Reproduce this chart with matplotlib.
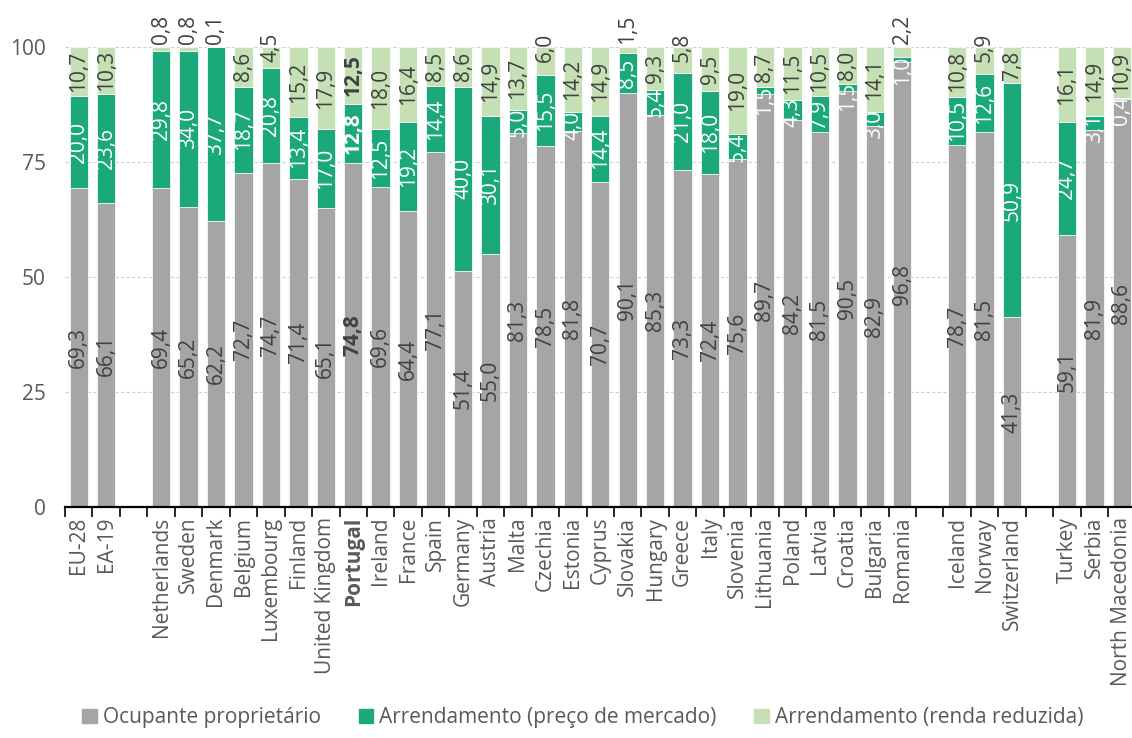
import matplotlib
matplotlib.use("Agg")
import matplotlib.pyplot as plt
from matplotlib.patches import Patch
import numpy as np

plt.rcParams['font.family'] = ['Open Sans', 'DejaVu Sans']

# groups of countries, a blank slot goes between groups
groups = [
    ["EU-28", "EA-19"],
    ["Netherlands", "Sweden", "Denmark", "Belgium", "Luxembourg", "Finland",
     "United Kingdom", "Portugal", "Ireland", "France", "Spain", "Germany",
     "Austria", "Malta", "Czechia", "Estonia", "Cyprus", "Slovakia", "Hungary",
     "Greece", "Italy", "Slovenia", "Lithuania", "Poland", "Latvia", "Croatia",
     "Bulgaria", "Romania"],
    ["Iceland", "Norway", "Switzerland"],
    ["Turkey", "Serbia", "North Macedonia"],
]

owner = [69.3, 66.1,
         69.4, 65.2, 62.2, 72.7, 74.7, 71.4, 65.1, 74.8, 69.6, 64.4, 77.1, 51.4,
         55.0, 81.3, 78.5, 81.8, 70.7, 90.1, 85.3, 73.3, 72.4, 75.6, 89.7, 84.2,
         81.5, 90.5, 82.9, 96.8,
         78.7, 81.5, 41.3,
         59.1, 81.9, 88.6]
market = [20.0, 23.6,
          29.8, 34.0, 37.7, 18.7, 20.8, 13.4, 17.0, 12.8, 12.5, 19.2, 14.4, 40.0,
          30.1, 5.0, 15.5, 4.0, 14.4, 8.5, 5.4, 21.0, 18.0, 5.4, 1.5, 4.3,
          7.9, 1.5, 3.0, 1.0,
          10.5, 12.6, 50.9,
          24.7, 3.1, 0.4]
reduced = [10.7, 10.3,
           0.8, 0.8, 0.1, 8.6, 4.5, 15.2, 17.9, 12.5, 18.0, 16.4, 8.5, 8.6,
           14.9, 13.7, 6.0, 14.2, 14.9, 1.5, 9.3, 5.8, 9.5, 19.0, 8.7, 11.5,
           10.5, 8.0, 14.1, 2.2,
           10.8, 5.9, 7.8,
           16.1, 14.9, 10.9]

series_names = ["Ocupante proprietário", "Arrendamento (preço de mercado)",
                "Arrendamento (renda reduzida)"]
highlight = "Portugal"

c_owner = "#A5A5A5"
c_market = "#1BA87A"
c_reduced = "#C5E0B4"
txt_dark = "#404040"

# slot positions with gaps
labels, pos = [], []
slot = 0
for gi, g in enumerate(groups):
    for name in g:
        labels.append(name)
        pos.append(slot)
        slot += 1
    if gi < len(groups) - 1:
        slot += 1
nslots = slot
pos = np.array(pos, dtype=float)
owner = np.array(owner)
market = np.array(market)
reduced = np.array(reduced)

fig = plt.figure(figsize=(11.32, 7.38), dpi=100)
ax = fig.add_axes([65 / 1132, 231 / 738, (nslots * 27.45) / 1132, 460 / 738])

w = 0.67
ax.bar(pos, owner, w, color=c_owner, edgecolor="white", linewidth=0.5, zorder=2)
ax.bar(pos, market, w, bottom=owner, color=c_market, edgecolor="white", linewidth=0.5, zorder=2)
ax.bar(pos, reduced, w, bottom=owner + market, color=c_reduced, edgecolor="white", linewidth=0.5, zorder=2)

fmt = lambda v: f"{v:.1f}".replace(".", ",")
fs = 15
for i, x in enumerate(pos):
    bold = "bold" if labels[i] == highlight else "normal"
    o, m, r = owner[i], market[i], reduced[i]
    ax.text(x, o / 2, fmt(o), rotation=90, ha="center", va="center",
            color=txt_dark, fontsize=fs, fontweight=bold, zorder=3)
    if m >= 6.5:
        ax.text(x, o + m / 2, fmt(m), rotation=90, ha="center", va="center",
                color="white", fontsize=fs, fontweight=bold, zorder=3)
    else:
        ax.text(x, o + m + 0.4, fmt(m), rotation=90, ha="center", va="top",
                color="white", fontsize=fs, fontweight=bold, zorder=3)
    top = o + m
    if r >= 7:
        ax.text(x, top + r / 2, fmt(r), rotation=90, ha="center", va="center",
                color=txt_dark, fontsize=fs, fontweight=bold, zorder=3, clip_on=False)
    elif r >= 3:
        ax.text(x, 100, fmt(r), rotation=90, ha="center", va="center",
                color=txt_dark, fontsize=fs, fontweight=bold, zorder=3, clip_on=False)
    else:
        ax.text(x, 100.6, fmt(r), rotation=90, ha="center", va="bottom",
                color=txt_dark, fontsize=fs, fontweight=bold, zorder=3, clip_on=False)

ax.set_xlim(-0.5, nslots - 0.5)
ax.set_ylim(0, 100)
ax.set_yticks([0, 25, 50, 75, 100])
ax.tick_params(axis="y", length=0, labelsize=15, labelcolor="#595959", pad=14)
ax.yaxis.grid(True, linestyle=(0, (3, 2)), color="#D0D0D0", linewidth=0.8, zorder=0)
ax.set_axisbelow(True)

# tick marks at slot boundaries, labels at bar centres
ax.set_xticks(np.arange(nslots + 1) - 0.5)
ax.set_xticklabels([])
ax.tick_params(axis="x", which="major", length=7, width=1.2, color="black", direction="out")
ax.set_xticks(pos, minor=True)
ax.set_xticklabels(labels, minor=True, rotation=90, fontsize=15, color="#595959")
ax.tick_params(axis="x", which="minor", length=0, pad=7)
for t in ax.get_xticklabels(minor=True):
    if t.get_text() == highlight:
        t.set_fontweight("bold")

for s in ["top", "right", "left"]:
    ax.spines[s].set_visible(False)
ax.spines["bottom"].set_linewidth(1.6)
ax.spines["bottom"].set_color("black")

handles = [Patch(color=c) for c in (c_owner, c_market, c_reduced)]
fig.legend(handles, series_names, loc="lower center", bbox_to_anchor=(0.515, -0.012),
           ncol=3, frameon=False, fontsize=15, handlelength=0.7, handleheight=0.7,
           handletextpad=0.3, columnspacing=1.8, labelcolor="#595959")

fig.savefig("out.png", dpi=100)
